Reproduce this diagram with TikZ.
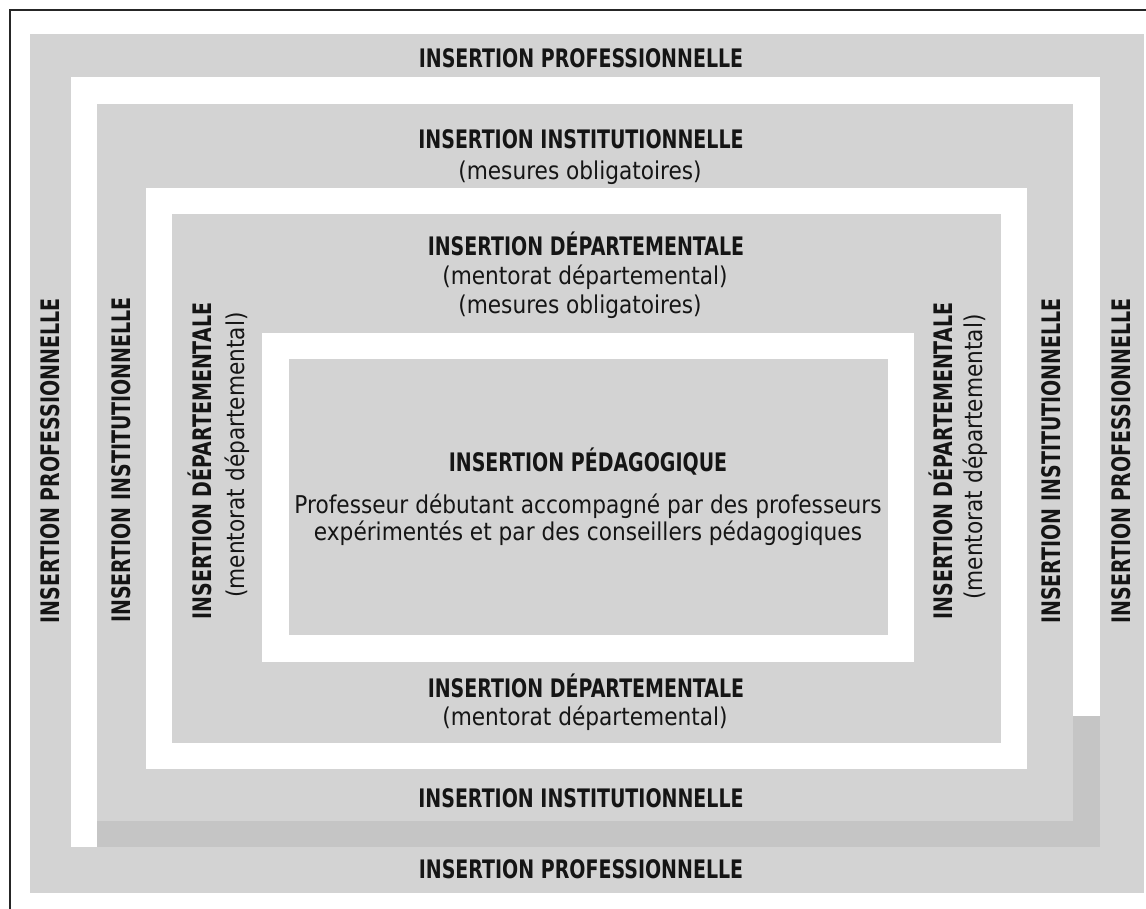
\documentclass[tikz,border=0pt]{standalone}
\usepackage{fontspec}
\setmainfont{DejaVu Sans}
\newfontfamily\lblB{DejaVu Sans}[FakeStretch=0.745]
\newfontfamily\lblR{DejaVu Sans}[FakeStretch=0.885]
\definecolor{lay}{HTML}{D3D3D3}
\definecolor{shadecol}{HTML}{C5C5C5}
\definecolor{txt}{HTML}{151515}
\tikzset{
  bt/.style={anchor=base, inner sep=0pt, text=txt, font=\lblB\bfseries\fontsize{25.5}{30}\selectfont},
  rt/.style={anchor=base, inner sep=0pt, text=txt, font=\lblR\fontsize{24.5}{29}\selectfont},
  vt/.style={rotate=90},
  layer/.style={fill=lay},
  gap/.style={fill=white},
  shadow layer/.style={fill=shadecol},
}
\begin{document}
\begin{tikzpicture}[x=1pt,y=-1pt]
\useasboundingbox (0,0) rectangle (1146,908);
\clip (0,0) rectangle (1146,908);
\fill[white] (0,0) rectangle (1146,908);
\draw[line width=1.5pt, black!85] (10,10) rectangle (1160,920);
% layers
\fill[layer] (30,34) rectangle (1144,893);
\fill[gap] (71,77) rectangle (1100,847);
\fill[shadow layer] (97,716) rectangle (1100,847);
\fill[layer] (97,104) rectangle (1073,821);
\fill[gap] (146,188) rectangle (1027,769);
\fill[layer] (172,214) rectangle (1001,743);
\fill[gap] (262,333) rectangle (914,662);
\fill[layer] (289,359) rectangle (888,635);
% professionnelle
\node[bt] (proT) at (581,67) {INSERTION PROFESSIONNELLE};
\node[bt] (proB) at (581,878) {INSERTION PROFESSIONNELLE};
\node[bt,vt] (proL) at (59,461) {INSERTION PROFESSIONNELLE};
\node[bt,vt] (proR) at (1130,461) {INSERTION PROFESSIONNELLE};
% institutionnelle
\node[bt] (insT) at (581,148) {INSERTION INSTITUTIONNELLE};
\node[rt] (insTm) at (580,179) {(mesures obligatoires)};
\node[bt] (insB) at (581,807) {INSERTION INSTITUTIONNELLE};
\node[bt,vt] (insL) at (130,460) {INSERTION INSTITUTIONNELLE};
\node[bt,vt] (insR) at (1060,461) {INSERTION INSTITUTIONNELLE};
% departementale
\node[bt] (depT) at (586,255) {INSERTION DÉPARTEMENTALE};
\node[rt] (depTm) at (585,284) {(mentorat départemental)};
\node[rt] (depTo) at (580,313) {(mesures obligatoires)};
\node[bt] (depB) at (586,697) {INSERTION DÉPARTEMENTALE};
\node[rt] (depBm) at (585,725) {(mentorat départemental)};
\node[bt,vt] (depL) at (211,461) {INSERTION DÉPARTEMENTALE};
\node[rt,vt] (depLm) at (244,455) {(mentorat départemental)};
\node[bt,vt] (depR) at (952,461) {INSERTION DÉPARTEMENTALE};
\node[rt,vt] (depRm) at (982,457) {(mentorat départemental)};
% pedagogique
\node[bt] (ped) at (588,471) {INSERTION PÉDAGOGIQUE};
\node[rt] (ped1) at (588,513) {Professeur débutant accompagné par des professeurs};
\node[rt] (ped2) at (588,540) {expérimentés et par des conseillers pédagogiques};
\end{tikzpicture}
\end{document}
